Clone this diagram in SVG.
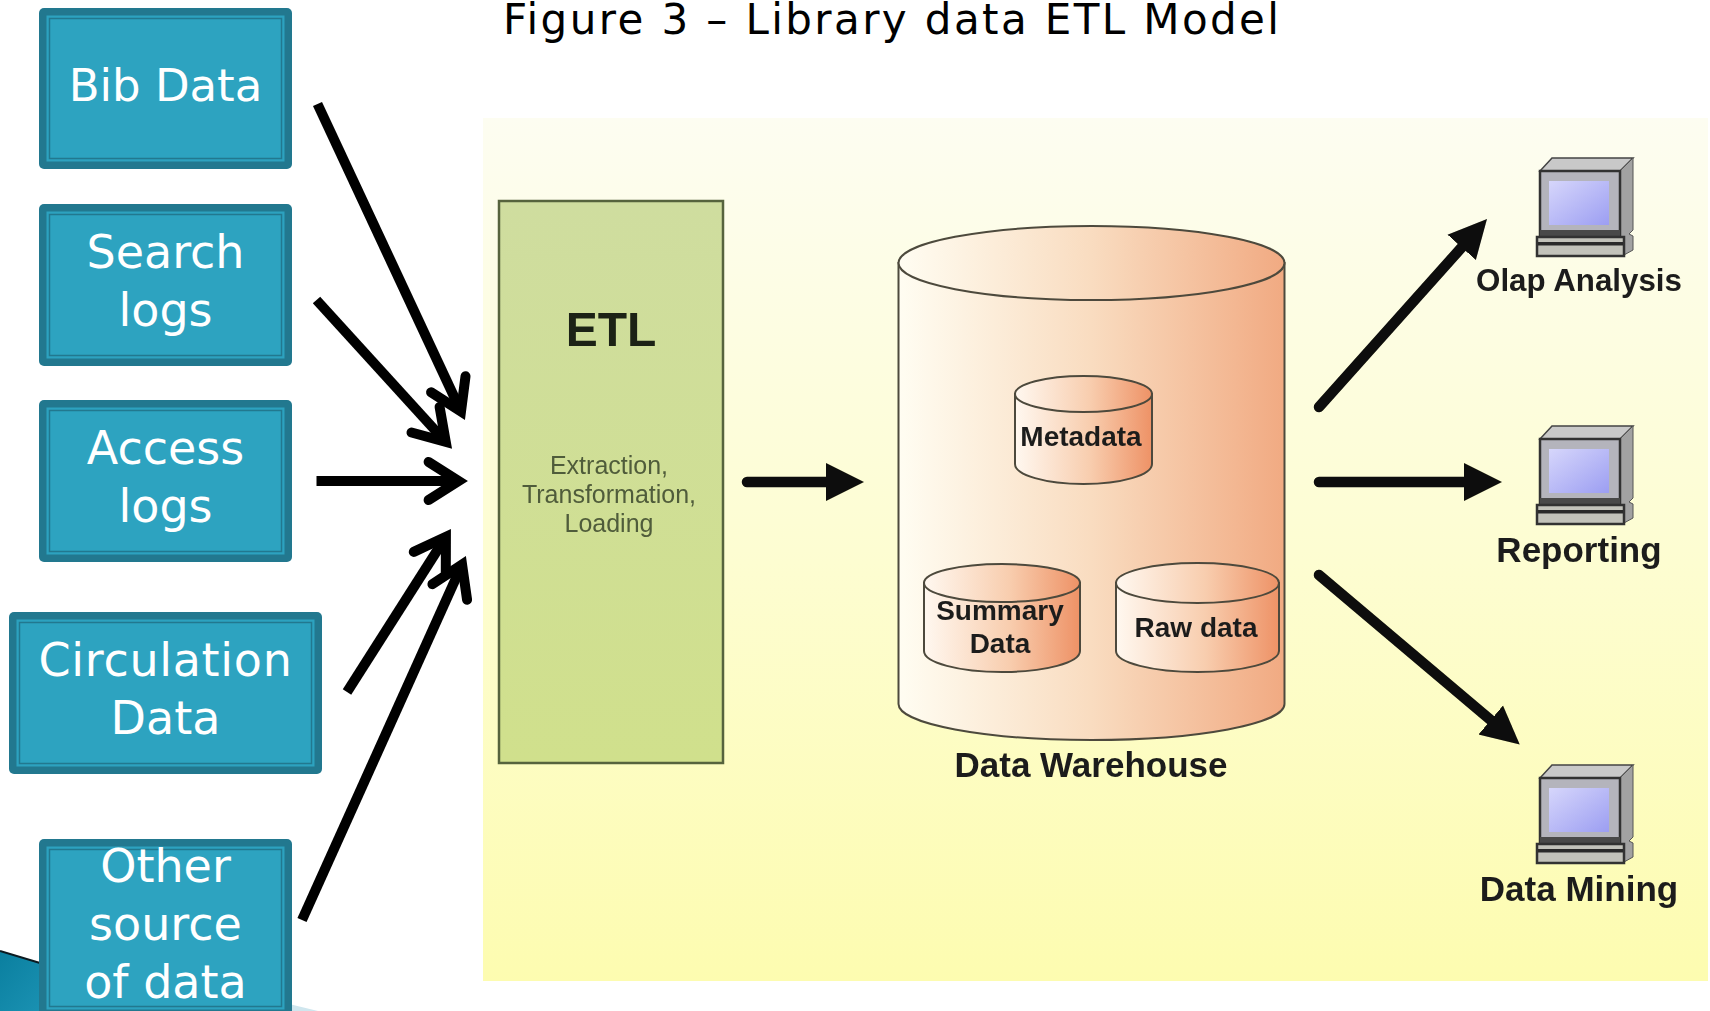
<svg xmlns="http://www.w3.org/2000/svg" width="1710" height="1011" viewBox="0 0 1710 1011">
<style>
.b0{fill:#22788f}.b1{fill:#2da2bf}.b2{fill:#2da3c0;stroke:#22788f;stroke-width:1.5}
.bt{font-family:"DejaVu Sans",sans-serif;font-size:46px;fill:#fff;text-anchor:middle}
.title{font-family:"DejaVu Sans",sans-serif;font-size:42px;letter-spacing:2.4px;fill:#000}
.lb{font-family:"Liberation Sans",Arial,sans-serif;font-weight:bold;fill:#1f1f1c;text-anchor:middle}
.cy{stroke:#4d4a3c;stroke-width:2}
.open{fill:none;stroke:#000;stroke-width:10}
.solid{fill:none;stroke:#0a0a08;stroke-width:10.500;stroke-linecap:round;filter:url(#soft)}
.soft{filter:url(#soft)}
</style>
<defs>
<filter id="soft" filterUnits="userSpaceOnUse" x="0" y="0" width="1710" height="1011"><feGaussianBlur stdDeviation="0.7"/></filter>
<linearGradient id="bg" x1="0" y1="0" x2="0" y2="1"><stop offset="0" stop-color="#fdfdf1"/><stop offset=".5" stop-color="#fdfdd2"/><stop offset="1" stop-color="#fdfcb0"/></linearGradient>
<linearGradient id="etl" x1="0" y1="0" x2="0" y2="1"><stop offset="0" stop-color="#cfdd9f"/><stop offset="1" stop-color="#d0e08c"/></linearGradient>
<linearGradient id="dw" x1="0" y1="0" x2="1" y2="0"><stop offset="0" stop-color="#fffdf2"/><stop offset=".5" stop-color="#f9dcc0"/><stop offset="1" stop-color="#f1aa82"/></linearGradient>
<linearGradient id="can" x1="0" y1="0" x2="1" y2="0"><stop offset="0" stop-color="#fff8f0"/><stop offset=".55" stop-color="#f8cdae"/><stop offset="1" stop-color="#ee9266"/></linearGradient>
<linearGradient id="scr" x1="0" y1="0" x2="1" y2="1"><stop offset="0" stop-color="#d6d6fb"/><stop offset="1" stop-color="#9c9ef2"/></linearGradient>
<linearGradient id="corner" x1="0" y1="0" x2="1" y2="1"><stop offset="0" stop-color="#0a7f9f"/><stop offset="1" stop-color="#1c93b4"/></linearGradient>
<marker id="openHead" markerUnits="userSpaceOnUse" markerWidth="60" markerHeight="60" viewBox="0 0 60 60" refX="46.4" refY="30" orient="auto" overflow="visible">
<path d="M19,11 L49,30 L19,49" fill="none" stroke="#000" stroke-width="10" stroke-linecap="round" stroke-miterlimit="10"/>
</marker>
<marker id="solidHead" markerUnits="userSpaceOnUse" markerWidth="40" markerHeight="40" viewBox="0 0 40 40" refX="20" refY="20" orient="auto">
<path d="M0,1 L38,20 L0,39 Z" fill="#0a0a08"/>
</marker>
<g id="pc">
<path d="M3,13 L15,0 L96,0 L83,13 Z" fill="#c9c9c9" stroke="#444" stroke-width="1.5"/>
<path d="M83,13 L96,0 L96,72 L92,76 L96,78 L96,92 L87,97 L83,78 Z" fill="#a2a2a2" stroke="#555" stroke-width="1"/>
<rect x="3" y="13" width="80" height="64" fill="#b4b4bc" stroke="#333" stroke-width="2.500"/>
<rect x="12" y="23" width="60" height="44" fill="url(#scr)"/>
<rect x="3" y="72" width="80" height="7" fill="#4a4a4a"/>
<rect x="0" y="79" width="87" height="19" fill="#c2c2ba" stroke="#333" stroke-width="2.500"/>
<rect x="1" y="84" width="85" height="3.500" fill="#2c2c2c"/>
</g>
</defs>

<rect id="page" width="1710" height="1011" fill="#fff"/>
<g id="corner-decoration">
<polygon points="0,951 50,966 50,1011 0,1011" fill="url(#corner)"/>
<line x1="0" y1="951" x2="50" y2="966" stroke="#0c1a20" stroke-width="2"/>
<polygon points="285,1003 318,1011 285,1011" fill="#cfe6ee"/>
</g>

<text id="title" class="title" x="503" y="34">Figure 3 – Library data ETL Model</text>

<rect id="picture" x="483" y="118" width="1225" height="863" fill="url(#bg)"/>

<g id="node-bib">
<rect class="b0" x="39" y="8" width="253" height="161" rx="5"/><rect class="b1" x="46.5" y="15.5" width="238" height="146"/><rect class="b2" x="49.5" y="18.5" width="232" height="140"/>
<text class="bt" x="165.500" y="101" font-size="45" style="font-size:45px">Bib Data</text>
</g>
<g id="node-search">
<rect class="b0" x="39" y="204" width="253" height="162" rx="5"/><rect class="b1" x="46.5" y="211.500" width="238" height="147"/><rect class="b2" x="49.5" y="214.500" width="232" height="141"/>
<text class="bt" x="165.500" y="268">Search</text><text class="bt" x="165.500" y="326">logs</text>
</g>
<g id="node-access">
<rect class="b0" x="39" y="400" width="253" height="162" rx="5"/><rect class="b1" x="46.5" y="407.500" width="238" height="147"/><rect class="b2" x="49.5" y="410.500" width="232" height="141"/>
<text class="bt" x="165.500" y="464">Access</text><text class="bt" x="165.500" y="522">logs</text>
</g>
<g id="node-circulation">
<rect class="b0" x="9" y="612" width="313" height="162" rx="5"/><rect class="b1" x="16.5" y="619.500" width="298" height="147"/><rect class="b2" x="19.5" y="622.500" width="292" height="141"/>
<text class="bt" x="165.500" y="676" letter-spacing="0.7">Circulation</text><text class="bt" x="165.500" y="734">Data</text>
</g>
<g id="node-other">
<rect class="b0" x="39" y="839" width="253" height="178" rx="5"/><rect class="b1" x="46.5" y="846.500" width="238" height="163"/><rect class="b2" x="49.5" y="849.500" width="232" height="157"/>
<text class="bt" x="165.500" y="882">Other</text><text class="bt" x="165.500" y="940">source</text><text class="bt" x="165.500" y="998">of data</text>
</g>

<g id="node-etl" class="soft">
<rect x="499" y="201" width="224" height="562" fill="url(#etl)" stroke="#56633c" stroke-width="2.500"/>
<text x="611" y="346" font-family="'Liberation Sans',Arial,sans-serif" font-weight="bold" font-size="48" fill="#1c2415" text-anchor="middle">ETL</text>
<g font-family="'Liberation Sans',Arial,sans-serif" font-size="25" fill="#505c3a" text-anchor="middle">
<text x="609" y="474">Extraction,</text><text x="609" y="503">Transformation,</text><text x="609" y="532">Loading</text>
</g>
</g>

<g id="node-warehouse" class="soft">
<path class="cy" d="M898.500,263 V704 A193,36 0 0 0 1284.500,704 V263 Z" fill="url(#dw)"/>
<ellipse class="cy" cx="1091.500" cy="263" rx="193" ry="37" fill="url(#dw)"/>
<text class="lb" x="1091" y="777" font-size="35">Data Warehouse</text>
</g>
<g id="node-metadata" class="soft">
<path class="cy" d="M1015,394 V464 A68.500,20 0 0 0 1152,464 V394 Z" fill="url(#can)"/>
<ellipse class="cy" cx="1083.500" cy="394" rx="68.500" ry="18" fill="url(#can)"/>
<text class="lb" x="1081" y="446" font-size="28">Metadata</text>
</g>
<g id="node-summary" class="soft">
<path class="cy" d="M924,583 V651 A78,21 0 0 0 1080,651 V583 Z" fill="url(#can)"/>
<ellipse class="cy" cx="1002" cy="583" rx="78" ry="19" fill="url(#can)"/>
<text class="lb" x="1000" y="620" font-size="28">Summary</text><text class="lb" x="1000" y="653" font-size="28">Data</text>
</g>
<g id="node-raw" class="soft">
<path class="cy" d="M1116,583 V651 A81.500,21 0 0 0 1279,651 V583 Z" fill="url(#can)"/>
<ellipse class="cy" cx="1197.500" cy="583" rx="81.500" ry="20" fill="url(#can)"/>
<text class="lb" x="1196" y="637" font-size="28">Raw data</text>
</g>

<g id="node-olap" class="soft"><use href="#pc" x="1537" y="158"/><text class="lb" x="1579" y="291" font-size="31.300">Olap Analysis</text></g>
<g id="node-reporting" class="soft"><use href="#pc" x="1537" y="426"/><text class="lb" x="1579" y="562" font-size="35">Reporting</text></g>
<g id="node-mining" class="soft"><use href="#pc" x="1537" y="765"/><text class="lb" x="1579" y="901" font-size="35">Data Mining</text></g>

<g id="connectors">
<line class="open" x1="317.500" y1="104" x2="459.900" y2="409.100" marker-end="url(#openHead)"/>
<line class="open" x1="316.500" y1="300" x2="444" y2="440" marker-end="url(#openHead)"/>
<line class="open" x1="316.500" y1="481" x2="456" y2="481" marker-end="url(#openHead)"/>
<line class="open" x1="347" y1="692" x2="444.500" y2="539" marker-end="url(#openHead)"/>
<line class="open" x1="302" y1="920" x2="461" y2="567" marker-end="url(#openHead)"/>
<line class="solid" x1="747" y1="482" x2="846" y2="482" marker-end="url(#solidHead)"/>
<line class="solid" x1="1319" y1="407" x2="1475" y2="232.400" marker-end="url(#solidHead)"/>
<line class="solid" x1="1319" y1="482" x2="1484" y2="482" marker-end="url(#solidHead)"/>
<line class="solid" x1="1319" y1="575" x2="1506" y2="733" marker-end="url(#solidHead)"/>
</g>
</svg>
